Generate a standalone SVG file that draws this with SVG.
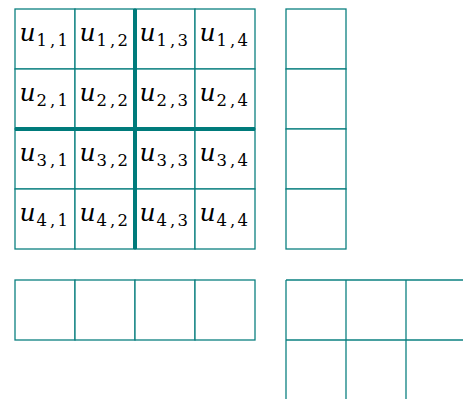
<svg xmlns="http://www.w3.org/2000/svg" width="463" height="399" viewBox="0 0 463 399">
<style>
.c{fill:#ffffff;stroke:#0b8080;stroke-width:1.3}
.thick{stroke:#007b7b;stroke-width:4;fill:none}
.g{stroke:#0b8080;stroke-width:1.3;fill:none}
.u{font-family:"DejaVu Serif","Liberation Serif",serif;font-style:italic;font-size:25px;fill:#000}
.s{font-family:"DejaVu Serif","Liberation Serif",serif;font-size:16.5px;fill:#000}
</style>
<rect width="463" height="399" fill="#ffffff"/>
<g id="matrix">
<g id="c11"><rect class="c" x="15" y="9" width="60" height="60"/><text class="u" x="19.5" y="41">u</text><text class="s" y="45.5" x="36.5 50 57.5">1,1</text></g>
<g id="c12"><rect class="c" x="75" y="9" width="60" height="60"/><text class="u" x="79.5" y="41">u</text><text class="s" y="45.5" x="96.5 110 117.5">1,2</text></g>
<g id="c13"><rect class="c" x="135" y="9" width="60" height="60"/><text class="u" x="139.5" y="41">u</text><text class="s" y="45.5" x="156.5 170 177.5">1,3</text></g>
<g id="c14"><rect class="c" x="195" y="9" width="60" height="60"/><text class="u" x="199.5" y="41">u</text><text class="s" y="45.5" x="216.5 230 237.5">1,4</text></g>
<g id="c21"><rect class="c" x="15" y="69" width="60" height="60"/><text class="u" x="19.5" y="101">u</text><text class="s" y="105.5" x="36.5 50 57.5">2,1</text></g>
<g id="c22"><rect class="c" x="75" y="69" width="60" height="60"/><text class="u" x="79.5" y="101">u</text><text class="s" y="105.5" x="96.5 110 117.5">2,2</text></g>
<g id="c23"><rect class="c" x="135" y="69" width="60" height="60"/><text class="u" x="139.5" y="101">u</text><text class="s" y="105.5" x="156.5 170 177.5">2,3</text></g>
<g id="c24"><rect class="c" x="195" y="69" width="60" height="60"/><text class="u" x="199.5" y="101">u</text><text class="s" y="105.5" x="216.5 230 237.5">2,4</text></g>
<g id="c31"><rect class="c" x="15" y="129" width="60" height="60"/><text class="u" x="19.5" y="161">u</text><text class="s" y="165.5" x="36.5 50 57.5">3,1</text></g>
<g id="c32"><rect class="c" x="75" y="129" width="60" height="60"/><text class="u" x="79.5" y="161">u</text><text class="s" y="165.5" x="96.5 110 117.5">3,2</text></g>
<g id="c33"><rect class="c" x="135" y="129" width="60" height="60"/><text class="u" x="139.5" y="161">u</text><text class="s" y="165.5" x="156.5 170 177.5">3,3</text></g>
<g id="c34"><rect class="c" x="195" y="129" width="60" height="60"/><text class="u" x="199.5" y="161">u</text><text class="s" y="165.5" x="216.5 230 237.5">3,4</text></g>
<g id="c41"><rect class="c" x="15" y="189" width="60" height="60"/><text class="u" x="19.5" y="221">u</text><text class="s" y="225.5" x="36.5 50 57.5">4,1</text></g>
<g id="c42"><rect class="c" x="75" y="189" width="60" height="60"/><text class="u" x="79.5" y="221">u</text><text class="s" y="225.5" x="96.5 110 117.5">4,2</text></g>
<g id="c43"><rect class="c" x="135" y="189" width="60" height="60"/><text class="u" x="139.5" y="221">u</text><text class="s" y="225.5" x="156.5 170 177.5">4,3</text></g>
<g id="c44"><rect class="c" x="195" y="189" width="60" height="60"/><text class="u" x="199.5" y="221">u</text><text class="s" y="225.5" x="216.5 230 237.5">4,4</text></g>
<g id="partition">
<line class="thick" x1="135" y1="9" x2="135" y2="249"/>
<line class="thick" x1="15" y1="129" x2="255" y2="129"/>
</g>
</g>
<g id="column">
<rect class="c" x="286" y="9" width="60" height="60"/>
<rect class="c" x="286" y="69" width="60" height="60"/>
<rect class="c" x="286" y="129" width="60" height="60"/>
<rect class="c" x="286" y="189" width="60" height="60"/>
</g>
<g id="row">
<rect class="c" x="15" y="280" width="60" height="60"/>
<rect class="c" x="75" y="280" width="60" height="60"/>
<rect class="c" x="135" y="280" width="60" height="60"/>
<rect class="c" x="195" y="280" width="60" height="60"/>
</g>
<g id="grid">
<line class="g" x1="286" y1="280" x2="463" y2="280"/>
<line class="g" x1="286" y1="340" x2="463" y2="340"/>
<line class="g" x1="286" y1="280" x2="286" y2="399"/>
<line class="g" x1="346" y1="280" x2="346" y2="399"/>
<line class="g" x1="406" y1="280" x2="406" y2="399"/>
</g>
</svg>
